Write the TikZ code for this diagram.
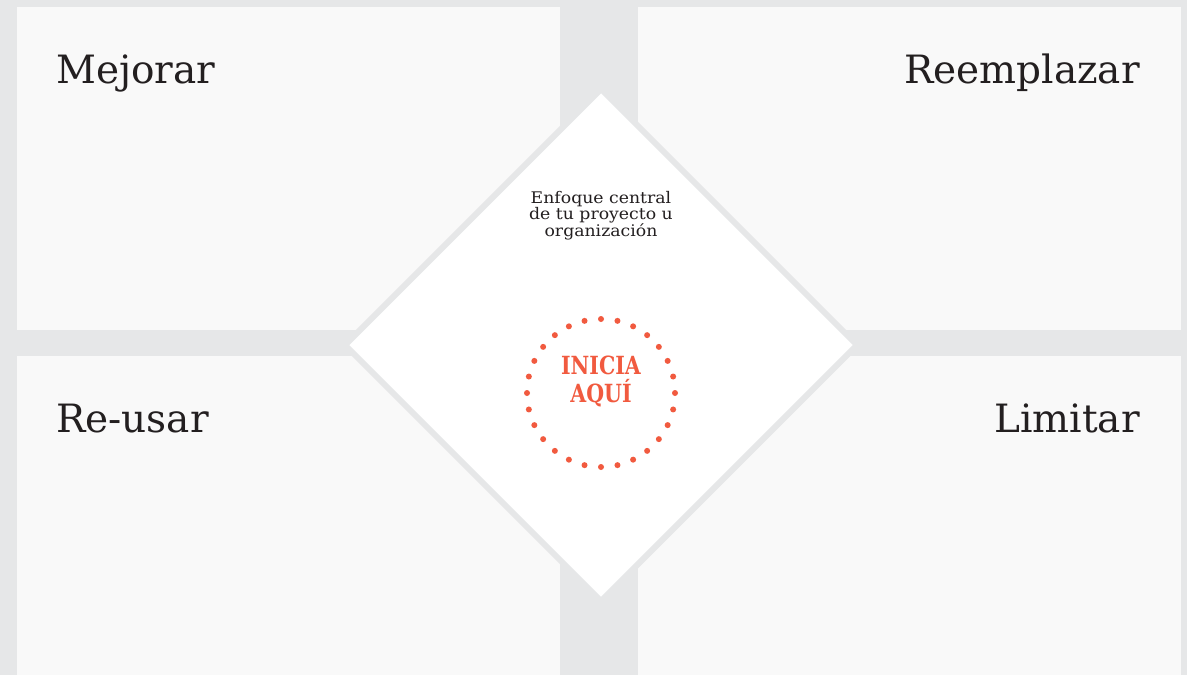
\documentclass[tikz,border=0pt]{standalone}
\usepackage{fontspec}
\setmainfont{DejaVu Serif}
\newfontfamily\slabfont[FakeStretch=0.82]{DejaVu Serif}
\newfontfamily\widefont[FakeStretch=1.08]{DejaVu Serif}

\definecolor{backgray}{HTML}{E6E7E8}
\definecolor{panelgray}{HTML}{F9F9F9}
\definecolor{inkgray}{HTML}{231F20}
\definecolor{startorange}{HTML}{F15A3F}

\tikzset{
  heading/.style={text=inkgray, font=\fontsize{39}{39}\selectfont, inner sep=0pt},
  focus/.style={text=inkgray, font=\widefont\fontsize{16}{16.5}\selectfont, align=center, inner sep=0pt},
  start/.style={text=startorange, font=\slabfont\bfseries\fontsize{25}{28}\selectfont, align=center, inner sep=0pt}
}

\begin{document}
\begin{tikzpicture}[x=1pt, y=-1pt]

    \fill[backgray] (0,0) rectangle (1187,675);
    \useasboundingbox (0,0) rectangle (1187,675);

    \begin{scope}[panelgray]
    \fill (17,7) rectangle (560,330);
    \fill (638,7) rectangle (1181,330);
    \fill (17,356) rectangle (560,675);
    \fill (638,356) rectangle (1181,675);
    \end{scope}

    \node[heading, anchor=base west] (mejorar) at (56,83) {Mejorar};
    \node[heading, anchor=base east] (reemplazar) at (1140,83) {Reemplazar};
    \node[heading, anchor=base west] (reusar) at (56,432) {Re-usar};
    \node[heading, anchor=base east] (limitar) at (1140,432) {Limitar};

    \begin{scope}[shift={(601,345)}]

    \filldraw[fill=white, draw=backgray, line width=6pt] (0,-256) -- (256,0) -- (0,256) -- (-256,0) -- cycle;

    \node[focus, anchor=base] (enfoque) at (0,-109) {Enfoque central\\de tu proyecto u\\organización};

    \foreach \k in {0,...,27}
      \fill[startorange] (0,48) ++(\k*360/28:74) circle (3);

    \node[start, anchor=base] (inicia) at (0,57) {INICIA\\AQUÍ};

    \end{scope}

\end{tikzpicture}
\end{document}
